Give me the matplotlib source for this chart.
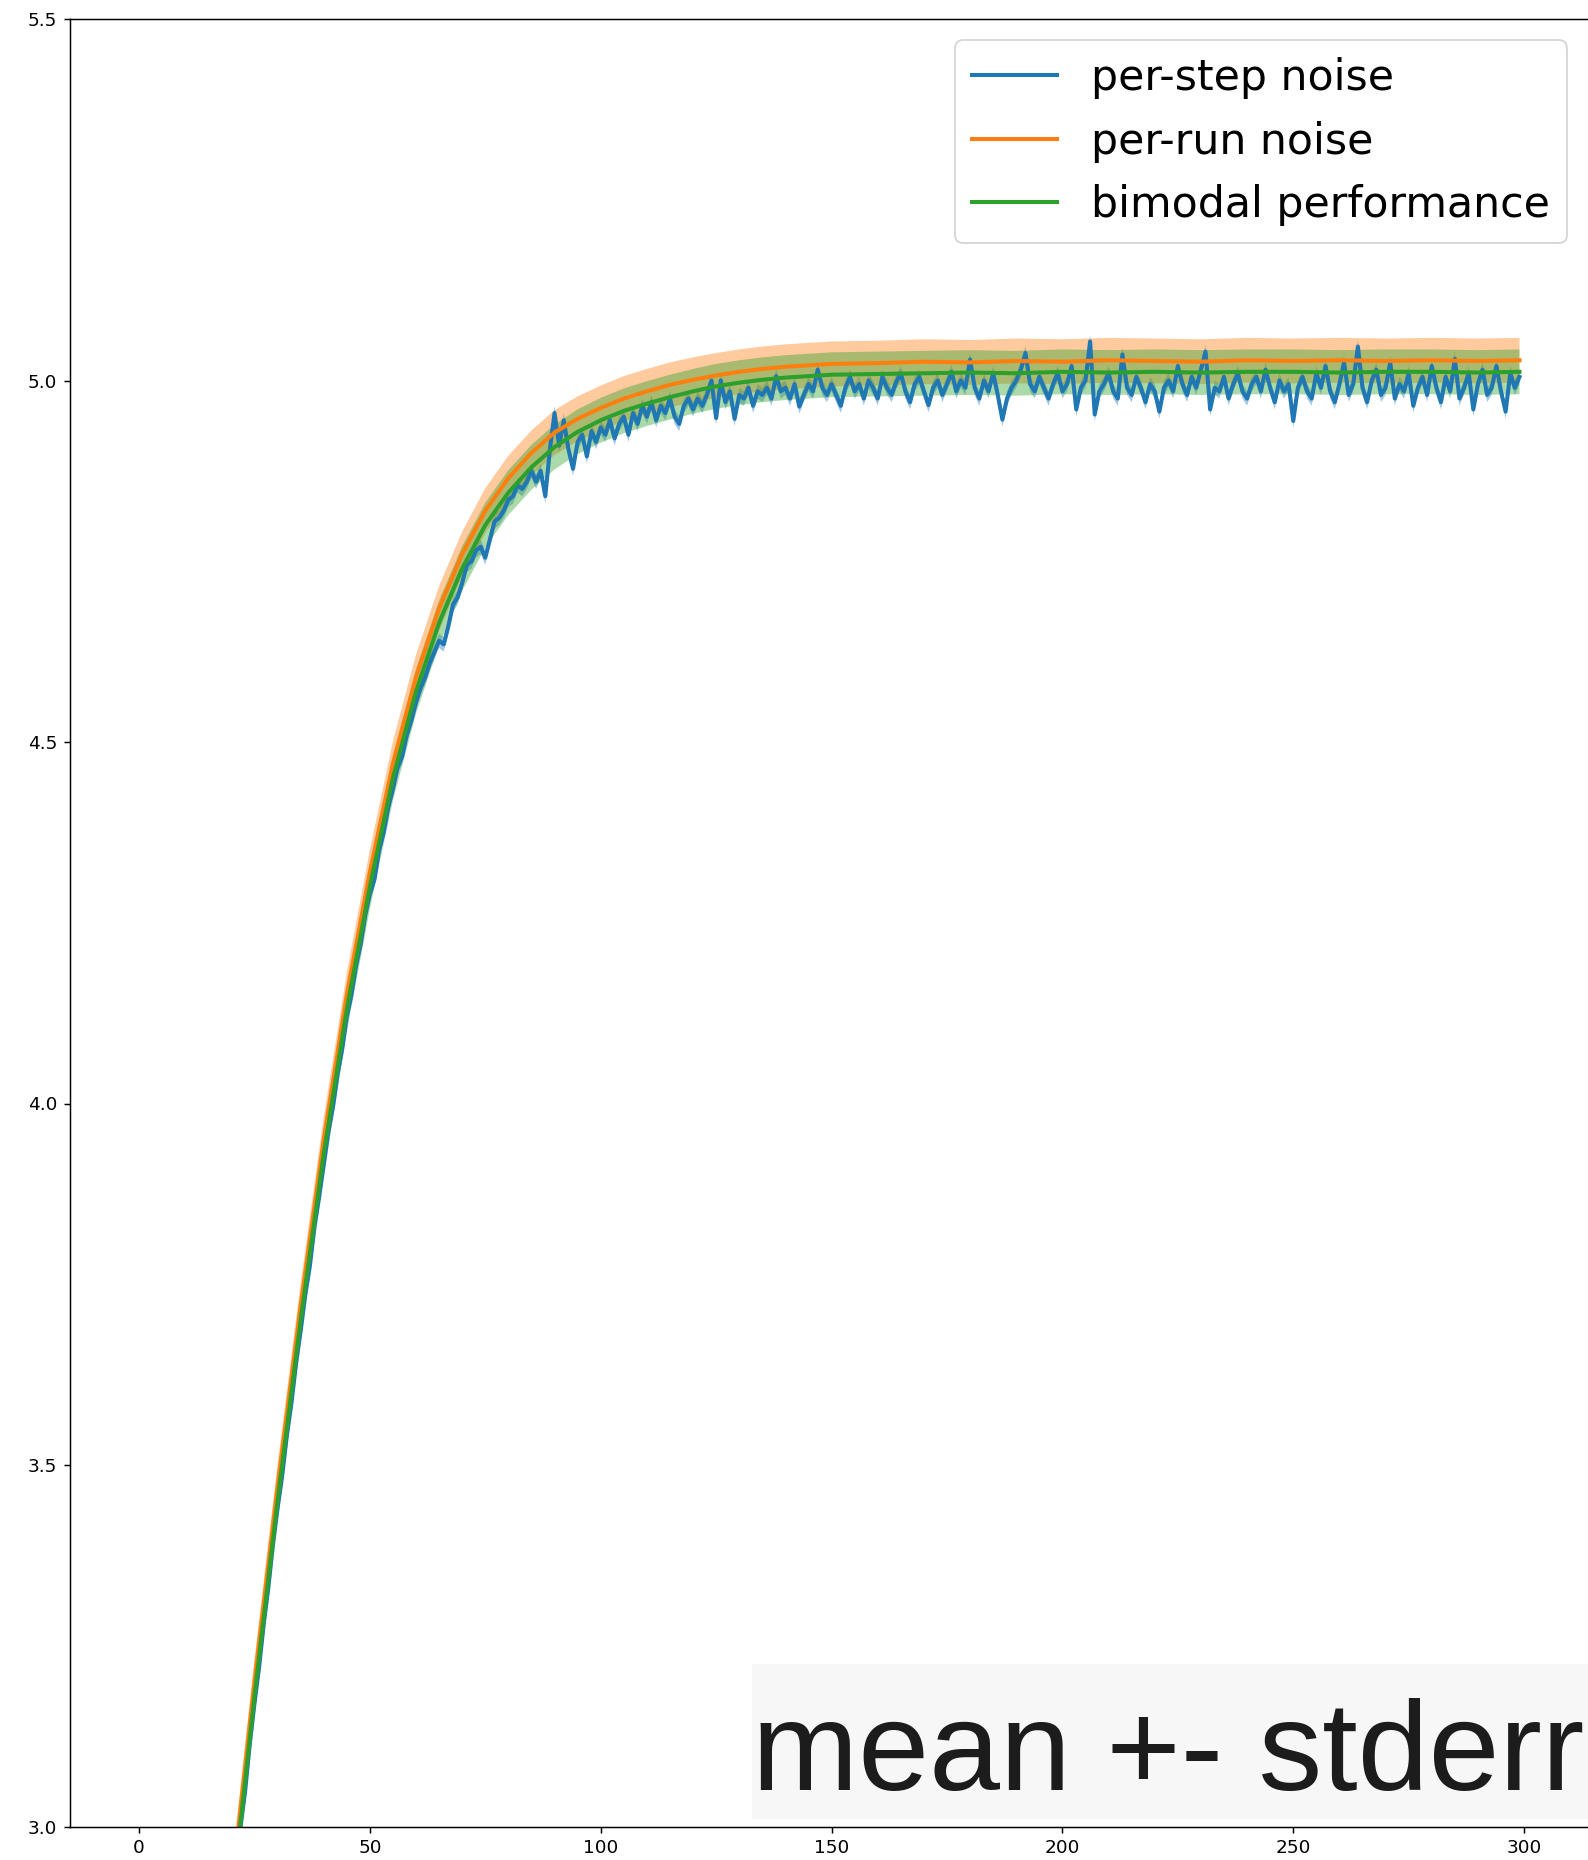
import matplotlib
matplotlib.use("Agg")
import matplotlib.pyplot as plt
from matplotlib.patches import Rectangle
import numpy as np

# ---------------- data ----------------
steps_smooth = [0, 5, 10, 15, 20, 25, 30, 35, 40, 45, 50, 55, 60, 65, 70, 75, 80, 85,
                90, 95, 100, 105, 110, 115, 120, 125, 130, 135, 140, 145, 150,
                160, 170, 180, 190, 200, 210, 220, 230, 240, 250, 260, 270, 280, 290, 299]

per_run_mean = [0.60, 1.45, 2.06, 2.53, 2.91, 3.20, 3.47, 3.72, 3.95, 4.15, 4.32, 4.47,
                4.59, 4.685, 4.76, 4.82, 4.865, 4.90, 4.928, 4.947, 4.962, 4.975, 4.985,
                4.994, 5.001, 5.007, 5.012, 5.016, 5.019, 5.021, 5.023,
                5.024, 5.026, 5.025, 5.027, 5.026, 5.028, 5.027, 5.026, 5.028, 5.027,
                5.028, 5.027, 5.028, 5.027, 5.028]

bimodal_mean = [0.58, 1.43, 2.04, 2.51, 2.89, 3.18, 3.45, 3.70, 3.93, 4.13, 4.30, 4.45,
                4.57, 4.665, 4.74, 4.80, 4.845, 4.88, 4.908, 4.929, 4.945, 4.958, 4.968,
                4.977, 4.985, 4.992, 4.997, 5.001, 5.004, 5.006, 5.008,
                5.009, 5.010, 5.011, 5.010, 5.012, 5.011, 5.012, 5.011, 5.012, 5.012,
                5.011, 5.012, 5.012, 5.011, 5.012]

per_step_mean = [
    0.55, 0.74, 0.92, 1.09, 1.25, 1.40, 1.54, 1.67, 1.79, 1.91,
    2.02, 2.13, 2.23, 2.33, 2.42, 2.51, 2.60, 2.68, 2.76, 2.83,
    2.88, 2.93, 3.00, 3.05, 3.115, 3.17, 3.22, 3.28, 3.33, 3.39,
    3.44, 3.485, 3.54, 3.585, 3.64, 3.685, 3.735, 3.775, 3.83, 3.87,
    3.915, 3.96, 3.995, 4.04, 4.075, 4.12, 4.15, 4.19, 4.22, 4.26,
    4.29, 4.31, 4.35, 4.375, 4.41, 4.435, 4.465, 4.48, 4.51, 4.53,
    4.555, 4.575, 4.59, 4.61, 4.625, 4.64, 4.635, 4.66, 4.69, 4.70,
    4.72, 4.745, 4.75, 4.765, 4.77, 4.755, 4.78, 4.805, 4.81, 4.82,
    4.835, 4.84, 4.855, 4.85, 4.86, 4.875, 4.86, 4.875, 4.84, 4.905,
    4.955, 4.91, 4.945, 4.905, 4.878, 4.915, 4.925, 4.895, 4.93, 4.915,
    4.935, 4.925, 4.945, 4.92, 4.94, 4.95, 4.925, 4.955, 4.94, 4.965,
    4.95, 4.97, 4.945, 4.965, 4.955, 4.975, 4.95, 4.94, 4.965, 4.975,
    4.96, 4.975, 4.965, 4.98, 5.0, 4.948, 5.0, 4.97, 4.985, 4.947,
    4.98, 4.975, 4.99, 4.965, 4.985, 4.98, 4.99, 4.975, 5.006, 4.985,
    4.99, 4.975, 4.995, 4.964, 4.98, 4.995, 4.985, 5.015, 4.99, 4.98,
    4.995, 4.98, 4.965, 4.99, 5.005, 4.985, 4.995, 4.975, 5.0, 4.99,
    4.975, 5.005, 4.99, 4.98, 4.998, 5.01, 4.985, 4.97, 4.995, 5.005,
    4.985, 4.966, 4.99, 5.0, 4.98, 4.995, 5.012, 4.985, 5.0, 4.99,
    5.029, 4.99, 4.975, 5.0, 4.985, 5.01, 4.98, 4.946, 4.975, 4.99,
    5.0, 5.015, 5.038, 4.995, 4.985, 5.005, 4.99, 4.975, 4.995, 5.01,
    4.985, 4.995, 5.02, 4.96, 4.99, 5.0, 5.054, 4.953, 4.985, 4.995,
    5.01, 4.985, 4.975, 5.036, 4.99, 4.98, 5.005, 4.99, 4.97, 4.995,
    4.985, 4.957, 4.99, 5.0, 4.985, 5.02, 4.995, 4.98, 5.005, 4.99,
    5.015, 5.04, 4.96, 4.99, 4.985, 5.005, 4.975, 4.995, 5.01, 4.985,
    4.975, 4.995, 5.005, 4.985, 5.015, 4.99, 4.97, 5.0, 4.985, 4.995,
    4.944, 4.99, 5.005, 4.985, 4.975, 5.01, 4.99, 5.02, 4.985, 4.97,
    4.995, 5.025, 4.98, 4.995, 5.047, 4.99, 4.97, 5.0, 5.015, 4.98,
    4.99, 5.025, 4.975, 4.995, 4.985, 5.01, 4.965, 4.99, 5.005, 4.98,
    5.02, 4.99, 4.97, 5.005, 4.985, 5.03, 4.975, 4.99, 5.01, 4.96,
    4.995, 5.015, 4.98, 4.99, 5.02, 4.985, 4.957, 5.01, 4.99, 5.005,
]
steps_all = list(range(len(per_step_mean)))

per_step_stderr = 0.010
per_run_stderr = 0.031
bimodal_stderr = 0.031

labels = ["per-step noise", "per-run noise", "bimodal performance"]
colors = ["#1f77b4", "#ff7f0e", "#2ca02c"]
x_ticks = [0, 50, 100, 150, 200, 250, 300]
y_ticks = [3.0, 3.5, 4.0, 4.5, 5.0, 5.5]
overlay_text = "mean +- stderr"

# ---------------- figure ----------------
W, H, DPI = 1588, 1860, 133
fig = plt.figure(figsize=(W / DPI, H / DPI), dpi=DPI)
ax = fig.add_axes([70 / W, (H - 1826.5) / H, (1588.5 - 70) / W, (1826.5 - 19) / H])

series = [
    (steps_all, per_step_mean, per_step_stderr),
    (steps_smooth, per_run_mean, per_run_stderr),
    (steps_smooth, bimodal_mean, bimodal_stderr),
]

for (xs, ys, se), c in zip(series, colors):
    xs = np.asarray(xs, float)
    ys = np.asarray(ys, float)
    ax.fill_between(xs, ys - se, ys + se, color=c, alpha=0.4, linewidth=0)

for (xs, ys, se), c, lab in zip(series, colors, labels):
    ax.plot(xs, ys, color=c, lw=2.2, label=lab)

ax.set_xlim(-14.95, 313.95)
ax.set_ylim(3.0, 5.5)
ax.set_xticks(x_ticks)
ax.set_yticks(y_ticks)
ax.tick_params(labelsize=10)
ax.spines["right"].set_visible(False)

leg = ax.legend(loc="upper right", fontsize=23.1, handlelength=2.0, labelspacing=0.5)
for l in leg.get_lines():
    l.set_linewidth(2.2)

# overlay annotation box
fig.patches.append(Rectangle((752 / W, (H - 1819) / H), (W - 752 + 10) / W, 155 / H,
                             transform=fig.transFigure, facecolor="#f7f7f7",
                             edgecolor="none", zorder=5))
fig.text(752 / W, (H - 1790) / H, overlay_text, fontsize=69,
         family="Liberation Sans", color="#1c1c1c", va="baseline", ha="left",
         zorder=6)

fig.savefig("out.png", dpi=DPI)
